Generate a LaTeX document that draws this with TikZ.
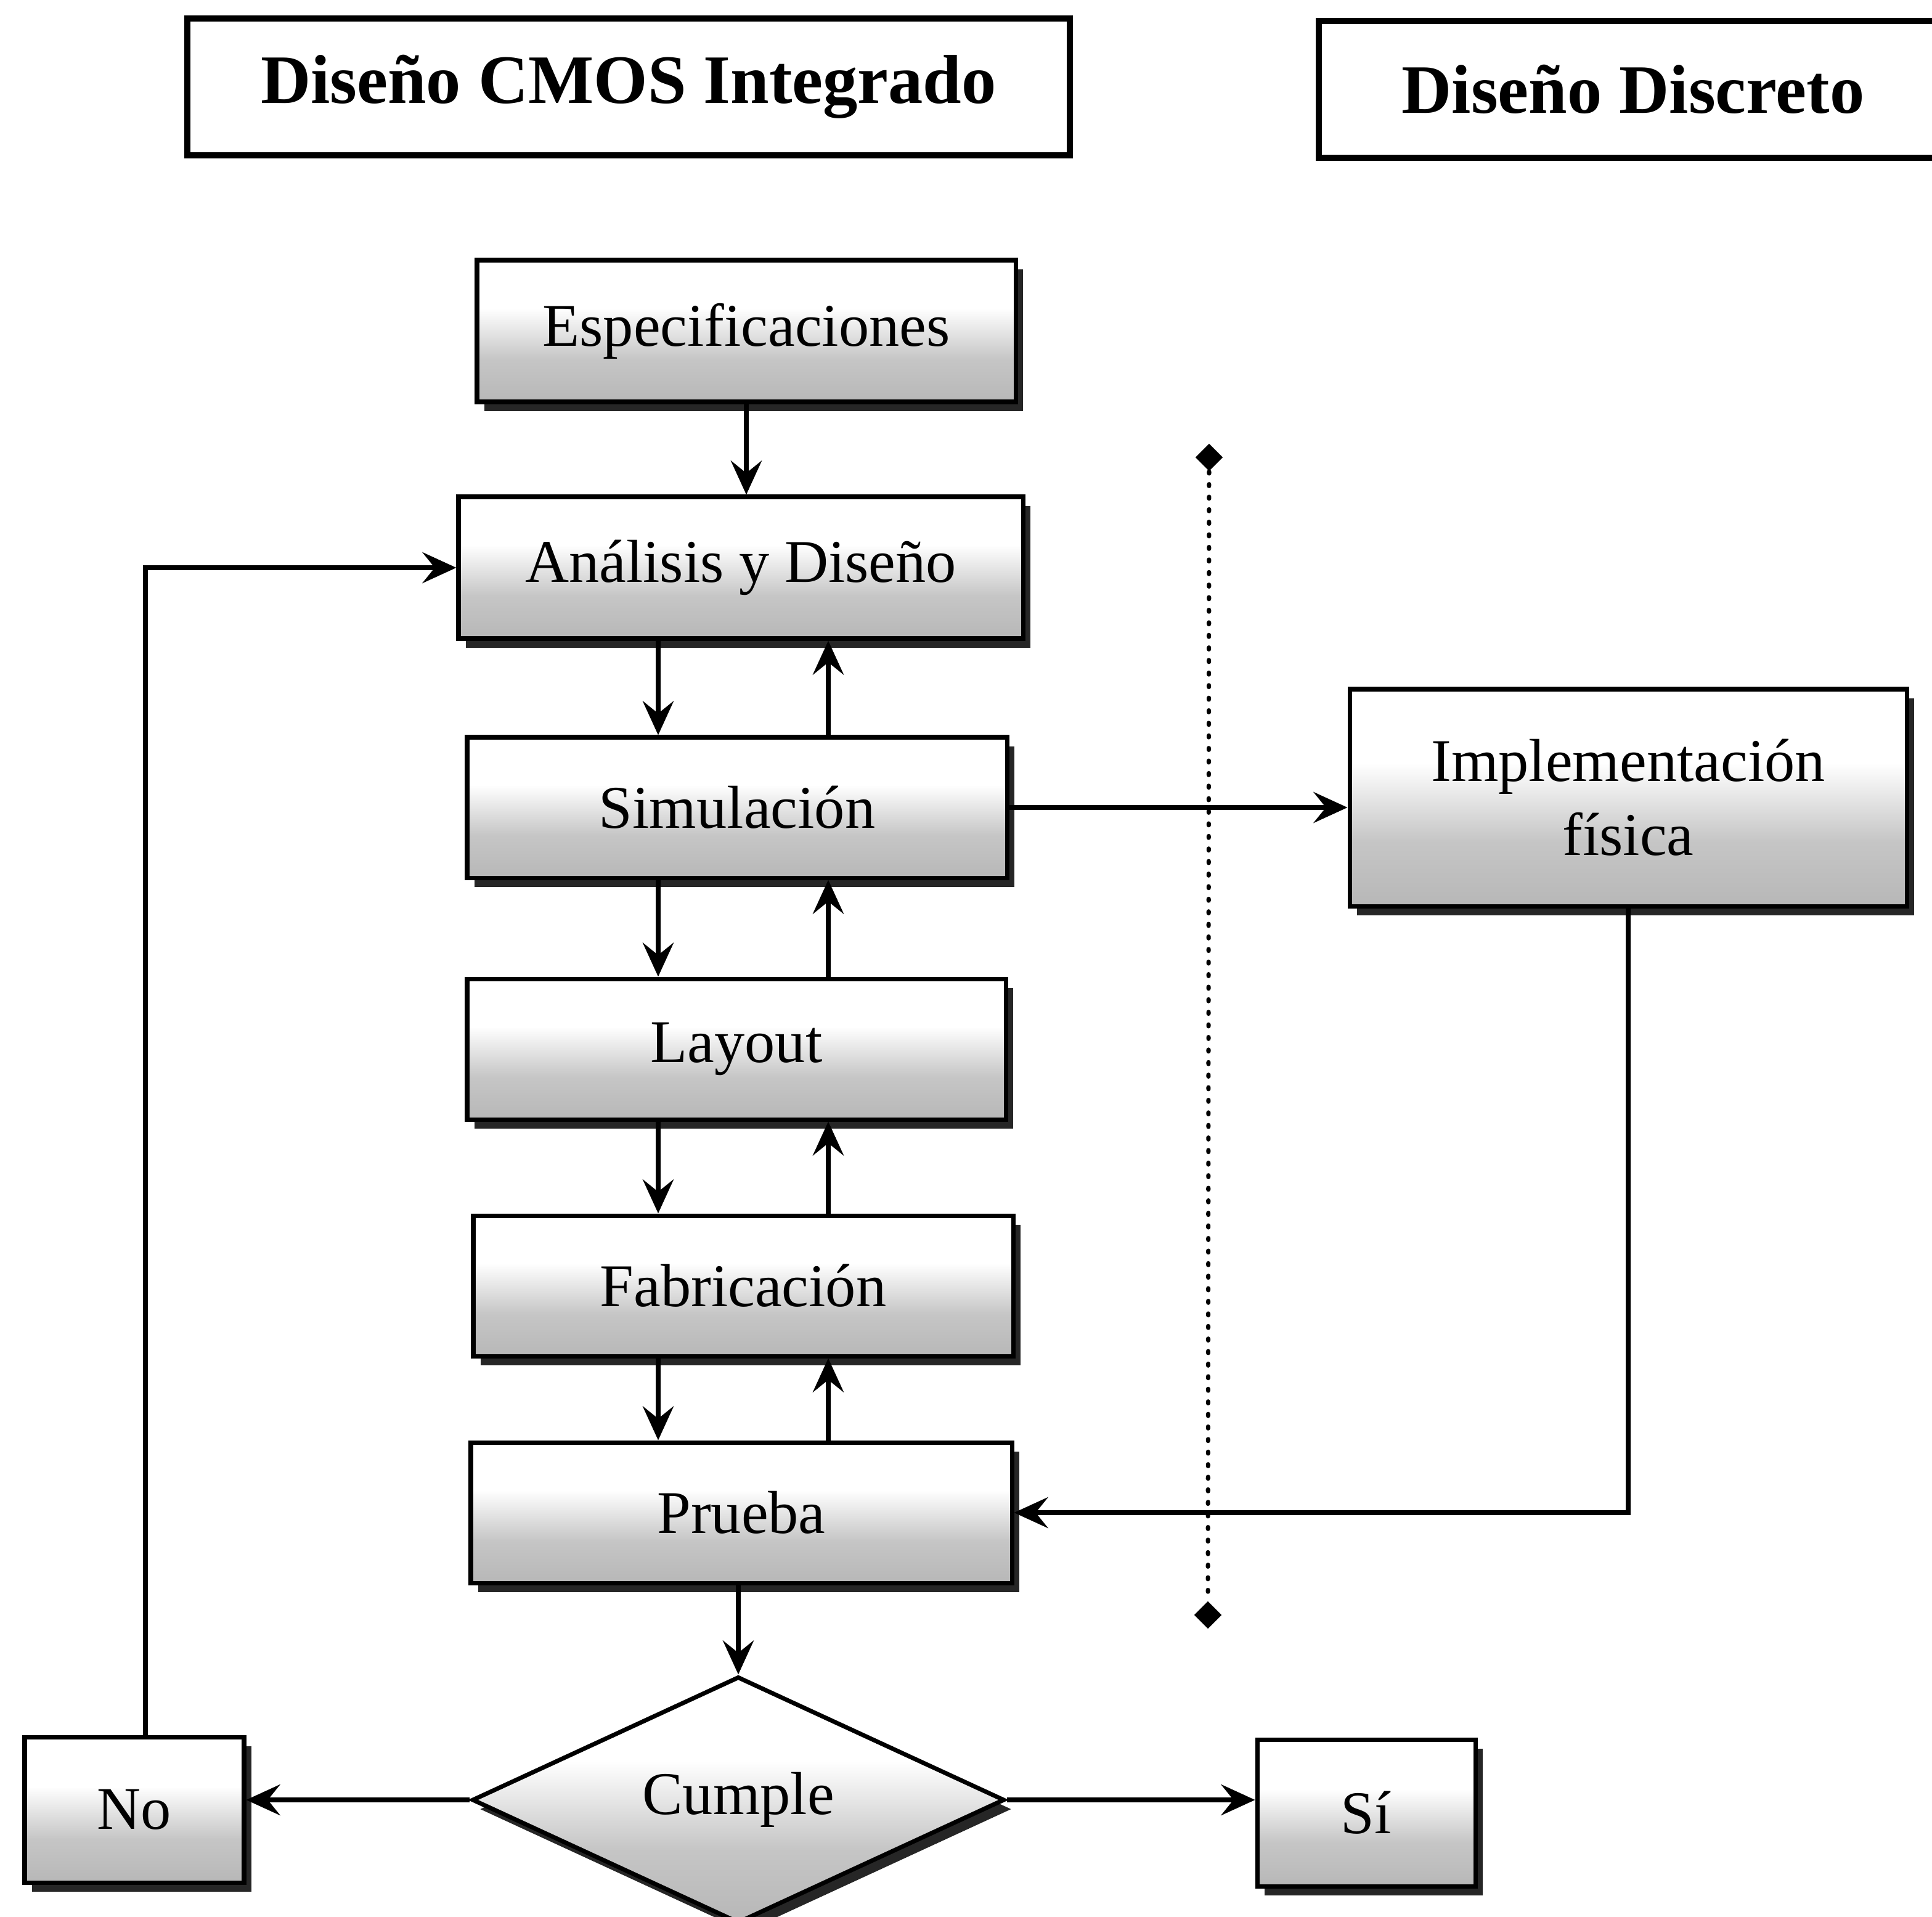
\documentclass[tikz,border=0pt]{standalone}
\usepackage{fontspec}
\setmainfont{Liberation Serif}
\usetikzlibrary{shapes,arrows.meta,positioning,shadows}

% relleno gris abajo, blanco arriba
\pgfdeclareverticalshading{caja}{100bp}{color(0bp)=(gray!75); color(40bp)=(gray!45); color(58bp)=(white); color(100bp)=(white)}

\tikzset{
    etapa/.style={rectangle, draw, line width=2pt, shading=caja,
        drop shadow={shadow xshift=0.12cm, shadow yshift=-0.15cm, fill=black!85, opacity=1},
        font=\fontsize{28}{34}\selectfont, align=center, inner sep=0pt},
    decision/.style={etapa, diamond, aspect=2.16},
    titulo/.style={rectangle, draw, line width=2.6pt, fill=white,
        font=\fontsize{32}{38}\selectfont\bfseries, inner sep=0pt},
    marca/.style={diamond, fill=black, inner sep=0pt, minimum size=0.45cm},
    arr/.style={-{Stealth[length=5.5mm,width=5mm,inset=2mm]}, line width=2.3pt}
}

\begin{document}
\begin{tikzpicture}
    \useasboundingbox (0,0) rectangle (31.35,-31.09);

    % encabezados
    \node[titulo, minimum width=14.32cm, minimum height=2.22cm] (cmos) at (10.20,-1.41) {Diseño CMOS Integrado};
    \node[titulo, minimum width=10.2cm, minimum height=2.22cm] (disc) at (26.50,-1.45) {Diseño Discreto};

    % flujo integrado
    \node[etapa, minimum width=8.74cm, minimum height=2.30cm] (esp) at (12.11,-5.37) {Especificaciones};
    \node[etapa, minimum width=9.16cm, minimum height=2.30cm] (ana) at (12.02,-9.21) {Análisis y Diseño};
    \node[etapa, minimum width=8.76cm, minimum height=2.28cm] (sim) at (11.96,-13.10) {Simulación};
    \node[etapa, minimum width=8.74cm, minimum height=2.28cm] (lay) at (11.95,-17.02) {Layout};
    \node[etapa, minimum width=8.76cm, minimum height=2.28cm] (fab) at (12.06,-20.86) {Fabricación};
    \node[etapa, minimum width=8.78cm, minimum height=2.28cm] (pru) at (12.03,-24.54) {Prueba};
    \node[decision, minimum width=8.64cm, minimum height=4.0cm] (cum) at (11.98,-29.20) {Cumple};
    \node[etapa, minimum width=3.56cm, minimum height=2.36cm] (no) at (2.18,-29.36) {No};
    \node[etapa, minimum width=3.54cm, minimum height=2.38cm] (si) at (22.17,-29.41) {Sí};

    % flujo discreto
    \node[etapa, minimum width=9.04cm, minimum height=3.52cm] (imp) at (26.42,-12.94) {Implementación\\física};

    % separador
    \node[marca] (dtop) at (19.62,-7.42) {};
    \node[marca] (dbot) at (19.60,-26.20) {};
    \draw[line width=2pt, dash pattern=on 0.8pt off 5pt, line cap=round] (dtop) -- (dbot);

    % conectores
    \coordinate (baja) at (10.68,0);
    \coordinate (sube) at (13.44,0);
    \draw[arr] (esp) -- (esp |- ana.north);
    \foreach \a/\b in {ana/sim, sim/lay, lay/fab, fab/pru} {
        \draw[arr] (\a.south -| baja) -- (\b.north -| baja);
        \draw[arr] (\b.north -| sube) -- (\a.south -| sube);
    }
    \draw[arr] (sim.east) -- (sim.east -| imp.west);
    \draw[arr] (imp.south) |- (pru.east);
    \draw[arr] (pru.south -| cum.north) -- (cum.north);
    \draw[arr] (cum.west) -- (cum.west -| no.east);
    \draw[arr] (cum.east) -- (cum.east -| si.west);
    \draw[arr] ([xshift=0.18cm]no.north) |- (ana.west);
\end{tikzpicture}
\end{document}
